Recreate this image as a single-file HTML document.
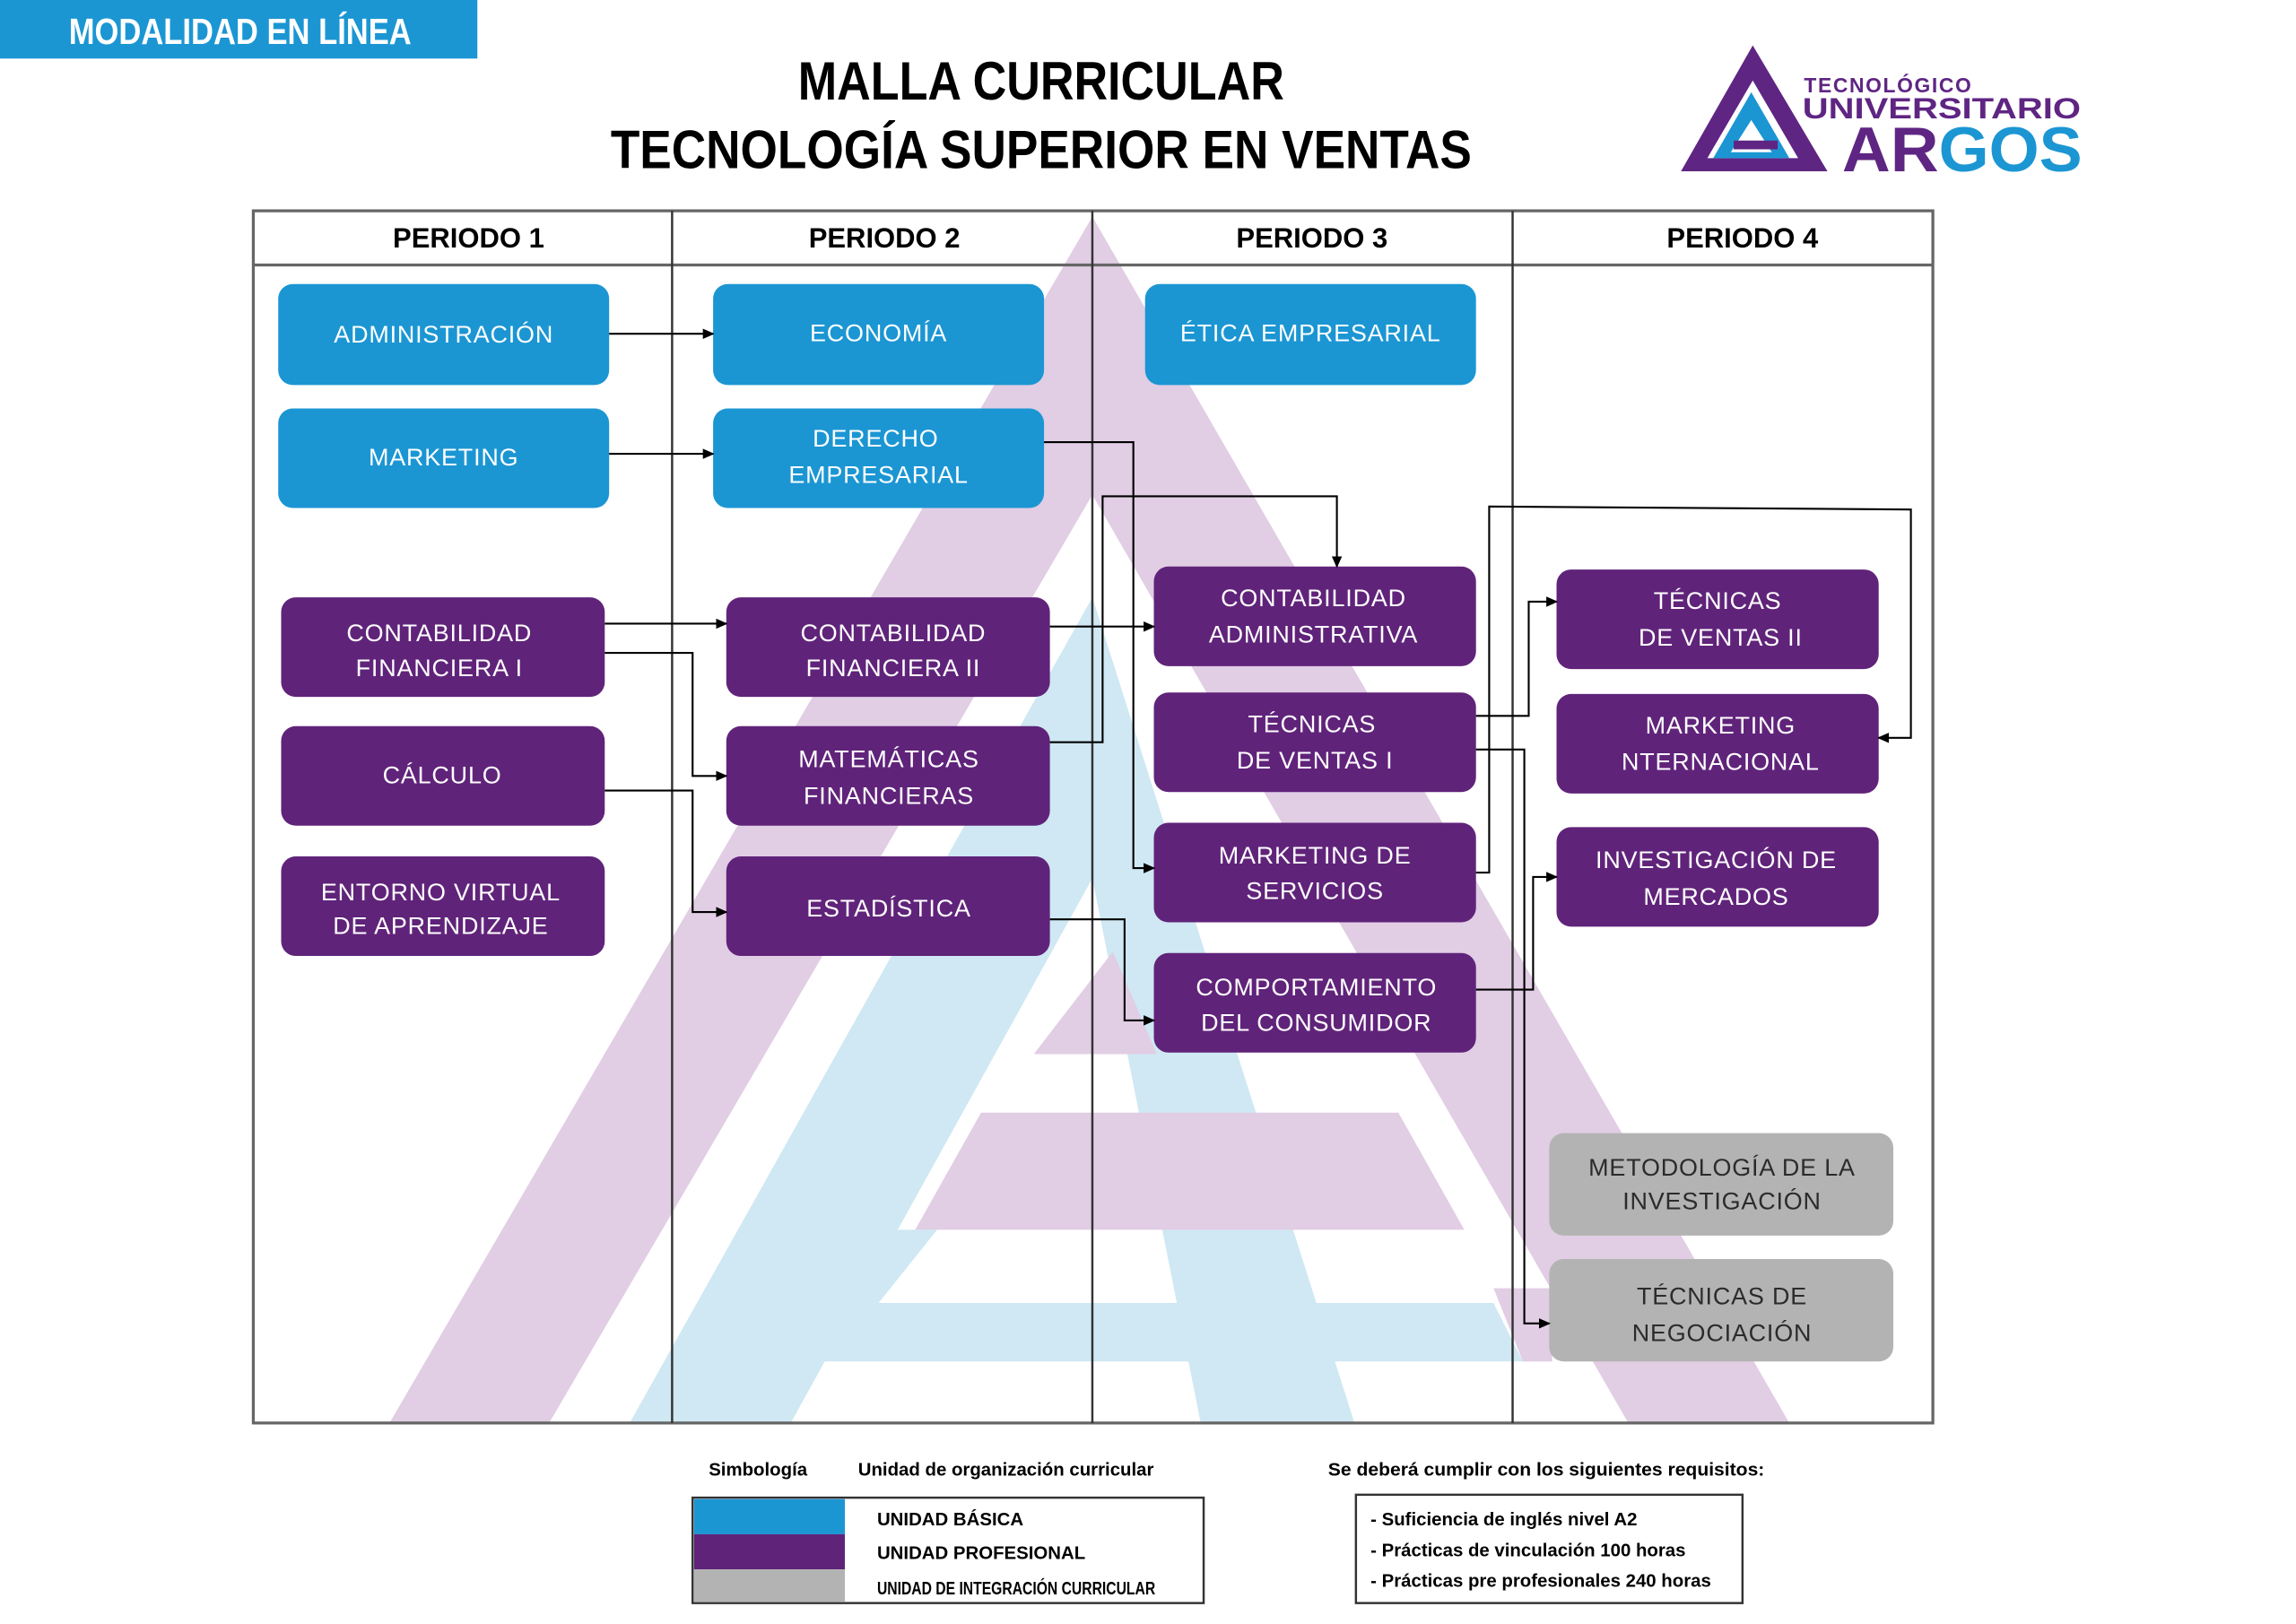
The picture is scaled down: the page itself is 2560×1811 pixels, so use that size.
<!DOCTYPE html>
<html><head><meta charset="utf-8"><style>
html,body{margin:0;padding:0;background:#fff;}
svg{display:block;}
text{font-family:"Liberation Sans",sans-serif;}
.bx{fill:#fff;font-size:16.5px;letter-spacing:0.5px;text-anchor:middle;}
.gx{fill:#2b2b2b;font-size:16.5px;letter-spacing:0.5px;text-anchor:middle;}
.hd{font-weight:bold;font-size:19px;text-anchor:middle;fill:#000;}
.ln{stroke:#000;stroke-width:1.3;fill:none;}
.sm{font-size:12.5px;font-weight:bold;fill:#000;}
</style></head><body>
<svg width="2560" height="1811" viewBox="0 0 1568 1109.3" preserveAspectRatio="none" xmlns="http://www.w3.org/2000/svg">
<defs>
<marker id="a" markerWidth="8" markerHeight="8" refX="7" refY="4" orient="auto" markerUnits="userSpaceOnUse"><path d="M0,0.5 L8,4 L0,7.5z" fill="#000"/></marker>
<clipPath id="tb"><rect x="173" y="144" width="1147" height="828"/></clipPath>
</defs>
<rect x="0" y="0" width="326" height="40" fill="#1b96d3"/>
<text x="164" y="30" text-anchor="middle" fill="#fff" font-weight="bold" font-size="25" textLength="234" lengthAdjust="spacingAndGlyphs">MODALIDAD EN LÍNEA</text>
<text x="711" y="68" text-anchor="middle" font-weight="bold" font-size="37" textLength="332" lengthAdjust="spacingAndGlyphs">MALLA CURRICULAR</text>
<text x="711" y="115" text-anchor="middle" font-weight="bold" font-size="37" textLength="588" lengthAdjust="spacingAndGlyphs">TECNOLOGÍA SUPERIOR EN VENTAS</text>
<polygon points="1197,31 1248,117 1148,117" fill="#5f2583"/>
<polygon points="1197,55 1228,108 1166,108" fill="#fff"/>
<polygon points="1196,63 1222,108 1170,108" fill="#1b96d3"/>
<polygon points="1196,82 1210,104 1182,104" fill="#fff"/>
<rect x="1184" y="96" width="30" height="6" fill="#5f2583"/>
<text x="1232" y="63" font-size="14" font-weight="bold" fill="#5f2583" letter-spacing="1">TECNOLÓGICO</text>
<text x="1231" y="81" font-size="20" font-weight="bold" fill="#5f2583" textLength="190" lengthAdjust="spacingAndGlyphs">UNIVERSITARIO</text>
<text x="1258" y="117" font-size="43" font-weight="bold" fill="#5f2583" textLength="66" lengthAdjust="spacingAndGlyphs">AR</text>
<text x="1324" y="117" font-size="43" font-weight="bold" fill="#1b96d3" textLength="98" lengthAdjust="spacingAndGlyphs">GOS</text>
<g clip-path="url(#tb)">
<polygon points="746,148 1222,972 1112,972 746,338 375,972 266,972" fill="#e1cde4"/>
<polygon points="746,408 925,972 820,972 746,600 540,972 430,972" fill="#cfe8f3"/>
<polygon points="706,720 790,720 760,650" fill="#e1cde4"/>
<polygon points="670,760 955,760 1000,840 625,840" fill="#e1cde4"/>
<polygon points="592,840 640,840 600,890 1020,890 1040,930 562,930 562,890" fill="#cfe8f3"/>
<polygon points="1020,880 1060,880 1060,930 1040,930" fill="#e1cde4"/>
</g>
<rect x="173" y="144" width="1147" height="828" fill="none" stroke="#666" stroke-width="2"/>
<line x1="173" y1="181" x2="1320" y2="181" stroke="#666" stroke-width="2"/>
<line x1="459" y1="144" x2="459" y2="972" stroke="#333" stroke-width="1.5"/>
<line x1="746" y1="144" x2="746" y2="972" stroke="#333" stroke-width="1.5"/>
<line x1="1033" y1="144" x2="1033" y2="972" stroke="#333" stroke-width="1.5"/>
<text class="hd" x="320" y="169">PERIODO 1</text>
<text class="hd" x="604" y="169">PERIODO 2</text>
<text class="hd" x="896" y="169">PERIODO 3</text>
<text class="hd" x="1190" y="169">PERIODO 4</text>
<g fill="#1b96d3">
<rect x="190" y="194" width="226" height="69" rx="10"/>
<rect x="190" y="279" width="226" height="68" rx="10"/>
<rect x="487" y="194" width="226" height="69" rx="10"/>
<rect x="487" y="279" width="226" height="68" rx="10"/>
<rect x="782" y="194" width="226" height="69" rx="10"/>
</g>
<g fill="#60237a">
<rect x="192" y="408" width="221" height="68" rx="10"/>
<rect x="192" y="496" width="221" height="68" rx="10"/>
<rect x="192" y="585" width="221" height="68" rx="10"/>
<rect x="496" y="408" width="221" height="68" rx="10"/>
<rect x="496" y="496" width="221" height="68" rx="10"/>
<rect x="496" y="585" width="221" height="68" rx="10"/>
<rect x="788" y="387" width="220" height="68" rx="10"/>
<rect x="788" y="473" width="220" height="68" rx="10"/>
<rect x="788" y="562" width="220" height="68" rx="10"/>
<rect x="788" y="651" width="220" height="68" rx="10"/>
<rect x="1063" y="389" width="220" height="68" rx="10"/>
<rect x="1063" y="474" width="220" height="68" rx="10"/>
<rect x="1063" y="565" width="220" height="68" rx="10"/>
</g>
<g fill="#b3b3b3">
<rect x="1058" y="774" width="235" height="70" rx="10"/>
<rect x="1058" y="860" width="235" height="70" rx="10"/>
</g>
<text class="bx" x="303" y="234">ADMINISTRACIÓN</text>
<text class="bx" x="303" y="318">MARKETING</text>
<text class="bx" x="600" y="233">ECONOMÍA</text>
<text class="bx" x="598" y="305">DERECHO</text><text class="bx" x="600" y="330">EMPRESARIAL</text>
<text class="bx" x="895" y="233">ÉTICA EMPRESARIAL</text>
<text class="bx" x="300" y="438">CONTABILIDAD</text><text class="bx" x="300" y="462">FINANCIERA I</text>
<text class="bx" x="302" y="535">CÁLCULO</text>
<text class="bx" x="301" y="615">ENTORNO VIRTUAL</text><text class="bx" x="301" y="638">DE APRENDIZAJE</text>
<text class="bx" x="610" y="438">CONTABILIDAD</text><text class="bx" x="610" y="462">FINANCIERA II</text>
<text class="bx" x="607" y="524">MATEMÁTICAS</text><text class="bx" x="607" y="549">FINANCIERAS</text>
<text class="bx" x="607" y="626">ESTADÍSTICA</text>
<text class="bx" x="897" y="414">CONTABILIDAD</text><text class="bx" x="897" y="439">ADMINISTRATIVA</text>
<text class="bx" x="896" y="500">TÉCNICAS</text><text class="bx" x="898" y="525">DE VENTAS I</text>
<text class="bx" x="898" y="590">MARKETING DE</text><text class="bx" x="898" y="614">SERVICIOS</text>
<text class="bx" x="899" y="680">COMPORTAMIENTO</text><text class="bx" x="899" y="704">DEL CONSUMIDOR</text>
<text class="bx" x="1173" y="416">TÉCNICAS</text><text class="bx" x="1175" y="441">DE VENTAS II</text>
<text class="bx" x="1175" y="501">MARKETING</text><text class="bx" x="1175" y="526">NTERNACIONAL</text>
<text class="bx" x="1172" y="593">INVESTIGACIÓN DE</text><text class="bx" x="1172" y="618">MERCADOS</text>
<text class="gx" x="1176" y="803">METODOLOGÍA DE LA</text><text class="gx" x="1176" y="826">INVESTIGACIÓN</text>
<text class="gx" x="1176" y="891">TÉCNICAS DE</text><text class="gx" x="1176" y="916">NEGOCIACIÓN</text>
<g class="ln">
<path d="M416,228 H487" marker-end="url(#a)"/>
<path d="M416,310 H487" marker-end="url(#a)"/>
<path d="M413,426 H496" marker-end="url(#a)"/>
<path d="M413,446 H473 V530 H496" marker-end="url(#a)"/>
<path d="M413,540 H473 V623 H496" marker-end="url(#a)"/>
<path d="M717,428 H788" marker-end="url(#a)"/>
<path d="M713,302 H774 V593 H788" marker-end="url(#a)"/>
<path d="M717,507 H753 V339 H913 V387" marker-end="url(#a)"/>
<path d="M717,628 H768 V697 H788" marker-end="url(#a)"/>
<path d="M1008,489 H1044 V411 H1063" marker-end="url(#a)"/>
<path d="M1008,512 H1041 V904 H1058" marker-end="url(#a)"/>
<path d="M1008,596 H1017 V346 L1305,348 V504 H1283" marker-end="url(#a)"/>
<path d="M1008,676 H1047 V599 H1063" marker-end="url(#a)"/>
</g>
<text class="sm" x="484" y="1008">Simbología</text>
<text class="sm" x="586" y="1008">Unidad de organización  curricular</text>
<rect x="473" y="1023" width="349" height="72" fill="#fff" stroke="#333" stroke-width="1.5"/>
<rect x="474" y="1024" width="103" height="24" fill="#1b96d3"/>
<rect x="474" y="1048" width="103" height="24" fill="#60237a"/>
<rect x="474" y="1072" width="103" height="22" fill="#b3b3b3"/>
<text class="sm" x="599" y="1042" font-size="11">UNIDAD BÁSICA</text>
<text class="sm" x="599" y="1065" font-size="11">UNIDAD PROFESIONAL</text>
<text class="sm" x="599" y="1089" font-size="11" textLength="190" lengthAdjust="spacingAndGlyphs">UNIDAD DE INTEGRACIÓN CURRICULAR</text>
<text class="sm" x="907" y="1008" textLength="298" lengthAdjust="spacingAndGlyphs">Se deberá cumplir con los siguientes requisitos:</text>
<rect x="926" y="1021" width="264" height="74" fill="#fff" stroke="#333" stroke-width="1.5"/>
<text class="sm" x="936" y="1042">- Suficiencia de inglés nivel A2</text>
<text class="sm" x="936" y="1063">- Prácticas de vinculación 100 horas</text>
<text class="sm" x="936" y="1084">- Prácticas pre profesionales 240 horas</text>
</svg>
</body></html>
